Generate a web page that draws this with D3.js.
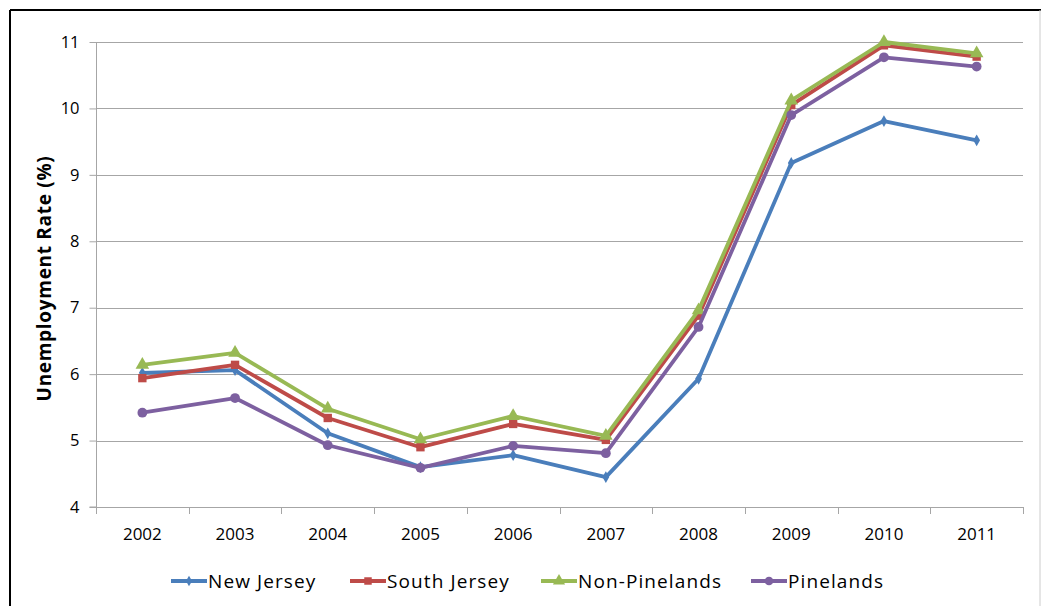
<!DOCTYPE html>
<html><head><meta charset="utf-8">
<script src="https://cdn.jsdelivr.net/npm/d3@7"></script>
<style>body{margin:0;background:#fff}svg{display:block}text{font-family:"Open Sans",Lato,sans-serif}</style>
</head><body>
<svg id="c" width="1041" height="606"></svg>
<script>
const years = ["2002","2003","2004","2005","2006","2007","2008","2009","2010","2011"];
const newJersey = [6.02,6.06,5.11,4.60,4.78,4.45,5.93,9.18,9.81,9.52];
const southJersey = [5.94,6.14,5.34,4.90,5.25,5.01,6.88,10.05,10.95,10.78];
const nonPinelands = [6.14,6.32,5.48,5.02,5.37,5.07,6.96,10.12,11.00,10.83];
const pinelands = [5.42,5.64,4.93,4.59,4.92,4.81,6.71,9.90,10.77,10.63];
const yTicks = [4,5,6,7,8,9,10,11];
const seriesNames = ["New Jersey","South Jersey","Non-Pinelands","Pinelands"];
const colors = ["#4A7EBB","#BE4B48","#98B954","#7D60A0"];
const markers = [d3.symbolDiamond, d3.symbolSquare, d3.symbolTriangle, d3.symbolCircle];
const markerSizes = [40, 70, 80, 75];

const series = [newJersey, southJersey, nonPinelands, pinelands];
const svg = d3.select("#c");
const FONT = '"Open Sans",Lato,sans-serif';

// outer border
svg.append("line").attr("x1",10).attr("x2",1041).attr("y1",10).attr("y2",10).attr("stroke","#000").attr("stroke-width",2);
svg.append("line").attr("x1",10).attr("x2",10).attr("y1",10).attr("y2",606).attr("stroke","#000").attr("stroke-width",2);
svg.append("line").attr("x1",1040).attr("x2",1040).attr("y1",10).attr("y2",606).attr("stroke","#ccc").attr("stroke-width",1);

const L=96, R=1023, T=42, B=507;
const x = d3.scaleBand().domain(years).range([L,R]);
const y = d3.scaleLinear().domain([4,11]).range([B,T]);

// gridlines
svg.append("g").selectAll("line").data(yTicks.filter(d=>d>4)).join("line")
  .attr("x1",L).attr("x2",R).attr("y1",d=>Math.round(y(d))+0.5).attr("y2",d=>Math.round(y(d))+0.5)
  .attr("stroke","#a6a6a6").attr("stroke-width",1);

// y axis
const ya = svg.append("g").attr("transform",`translate(${L+0.5},0)`)
  .call(d3.axisLeft(y).tickValues(yTicks).tickSize(7).tickPadding(10).tickFormat(d3.format("d")));
ya.select(".domain").attr("stroke","#a6a6a6").attr("d",`M-7,${y(4)}H0V${y(11)}`);
ya.selectAll(".tick line").attr("stroke","#a6a6a6");
ya.selectAll("text").attr("font-size",16.5).attr("fill","#000").style("font-family",FONT);

// x axis
const xa = svg.append("g").attr("transform",`translate(0,${Math.round(B)+0.5})`)
  .call(d3.axisBottom(x).tickSize(0).tickPadding(20));
xa.select(".domain").attr("stroke","#a6a6a6").attr("d",`M${L},0H${R}`);
xa.selectAll("text").attr("font-size",17).attr("fill","#000").style("font-family",FONT);
// category boundary ticks
const bounds = years.map(d=>x(d)).concat([R]);
svg.append("g").selectAll("line").data(bounds).join("line")
  .attr("x1",d=>Math.round(d)+0.5).attr("x2",d=>Math.round(d)+0.5)
  .attr("y1",B).attr("y2",B+7).attr("stroke","#a6a6a6");

// y title
svg.append("text").attr("transform",`translate(51,${(T+B)/2+4}) rotate(-90)`)
  .attr("text-anchor","middle").attr("font-size",19).attr("font-weight","bold")
  .attr("letter-spacing",0.7)
  .text("Unemployment Rate (%)");

const cx = d => x(d)+x.bandwidth()/2;
const line = d3.line().x((d,i)=>cx(years[i])).y(d=>y(d));

series.forEach((s,k)=>{
  svg.append("path").datum(s).attr("d",line).attr("fill","none")
    .attr("stroke",colors[k]).attr("stroke-width",3.8).attr("stroke-linejoin","round");
  svg.append("g").selectAll("path").data(s).join("path")
    .attr("transform",(d,i)=>`translate(${cx(years[i])},${y(d)})`)
    .attr("d",d3.symbol().type(markers[k]).size(markerSizes[k]))
    .attr("fill",colors[k]);
});

// legend
const legX = [171,350,541,751];
const legY = 581;
seriesNames.forEach((n,k)=>{
  const g = svg.append("g");
  g.append("line").attr("x1",legX[k]).attr("x2",legX[k]+36).attr("y1",legY).attr("y2",legY)
    .attr("stroke",colors[k]).attr("stroke-width",3.8);
  g.append("path").attr("transform",`translate(${legX[k]+18},${legY})`)
    .attr("d",d3.symbol().type(markers[k]).size(markerSizes[k]*0.8)).attr("fill",colors[k]);
  g.append("text").attr("x",legX[k]+37).attr("y",legY).attr("dy","0.36em")
    .attr("font-size",19).attr("letter-spacing",1.1).text(n);
});
</script>
</body></html>
